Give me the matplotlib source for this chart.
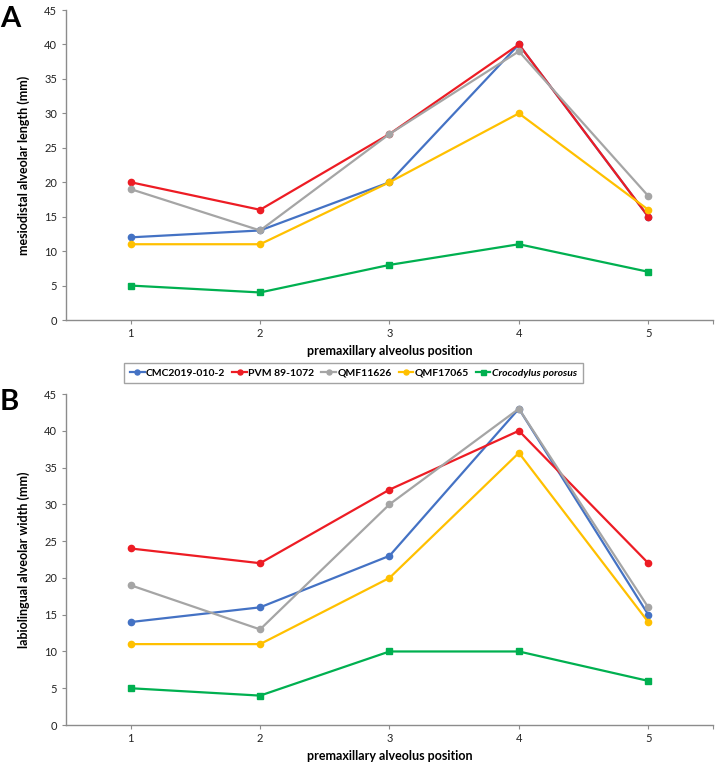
import numpy as np
import matplotlib.pyplot as plt

plt.rcParams['font.family'] = ['Lato', 'DejaVu Sans']

positions = [1, 2, 3, 4, 5]
names = ['CMC2019-010-2', 'PVM 89-1072', 'QMF11626', 'QMF17065', 'Crocodylus porosus']
colors = ['#4472C4', '#ED1C24', '#A5A5A5', '#FFC000', '#00B050']
markers = ['o', 'o', 'o', 'o', 's']

# panel A: mesiodistal alveolar length (mm)
length_cmc = [12, 13, 20, 40, 15]
length_pvm = [20, 16, 27, 40, 15]
length_qmf11626 = [19, 13, 27, 39, 18]
length_qmf17065 = [11, 11, 20, 30, 16]
length_croc = [5, 4, 8, 11, 7]

# panel B: labiolingual alveolar width (mm)
width_cmc = [14, 16, 23, 43, 15]
width_pvm = [24, 22, 32, 40, 22]
width_qmf11626 = [19, 13, 30, 43, 16]
width_qmf17065 = [11, 11, 20, 37, 14]
width_croc = [5, 4, 10, 10, 6]

fig = plt.figure(figsize=(7.22, 7.70), dpi=100)
axA = fig.add_axes([0.0914, 0.5844, 0.8961, 0.4026])
axB = fig.add_axes([0.0914, 0.0584, 0.8961, 0.4299])


def draw(ax, series, ylabel):
    lines = []
    for vals, c, m, n in zip(series, colors, markers, names):
        ln, = ax.plot(positions, vals, color=c, marker=m, markersize=4.5,
                      linewidth=1.6, label=n, zorder=3)
        lines.append(ln)
    ax.set_xlim(0.5, 5.5)
    ax.set_ylim(0, 45)
    ax.set_yticks(range(0, 46, 5))
    ax.set_xticks([1, 2, 3, 4, 5, 5.5])
    ax.set_xticklabels(['1', '2', '3', '4', '5', ''])
    for s in ['top', 'right']:
        ax.spines[s].set_visible(False)
    for s in ['left', 'bottom']:
        ax.spines[s].set_color('#8c8c8c')
        ax.spines[s].set_linewidth(1.0)
    ax.tick_params(axis='both', colors='#8c8c8c', labelcolor='#222222',
                   labelsize=8, length=3, width=0.8)
    ax.tick_params(axis='x', pad=3)
    ax.set_xlabel('premaxillary alveolus position', fontsize=9,
                  fontweight='bold', labelpad=4)
    ax.set_ylabel(ylabel, fontsize=9, fontweight='bold', labelpad=10)
    return lines


lines = draw(axA, [length_cmc, length_pvm, length_qmf11626, length_qmf17065, length_croc],
             'mesiodistal alveolar length (mm)')
draw(axB, [width_cmc, width_pvm, width_qmf11626, width_qmf17065, width_croc],
     'labiolingual alveolar width (mm)')

leg = fig.legend(handles=lines, loc='center', bbox_to_anchor=(0.4896, 0.5156), ncol=5,
                 frameon=True, fancybox=False, edgecolor='#8c8c8c',
                 prop={'size': 7.5, 'weight': 'bold'}, handlelength=1.4,
                 handletextpad=0.15, columnspacing=0.65, borderpad=0.55,
                 markerscale=0.8)
leg.get_frame().set_linewidth(1.0)
leg.get_texts()[4].set_style('italic')

fig.text(0.0, 0.975, 'A', fontsize=21, fontweight='bold', va='center', ha='left')
fig.text(0.0, 0.478, 'B', fontsize=21, fontweight='bold', va='center', ha='left')

fig.savefig('out.png', dpi=100)
